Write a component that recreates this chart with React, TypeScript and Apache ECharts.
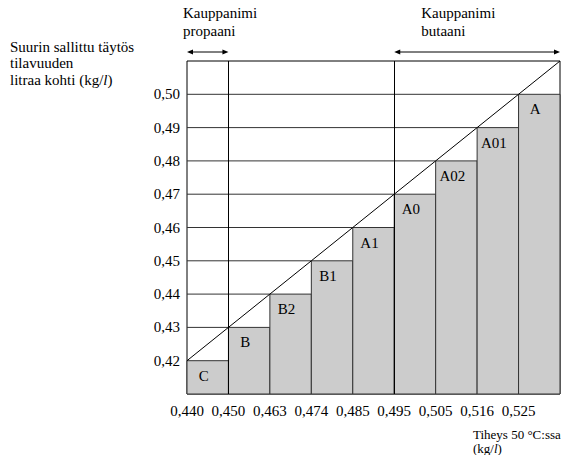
import React, { useEffect, useRef } from "react";
import * as echarts from "echarts";

// ---- data ----
const classes = ["C", "B", "B2", "B1", "A1", "A0", "A02", "A01", "A"];
const maxFill = [0.42, 0.43, 0.44, 0.45, 0.46, 0.47, 0.48, 0.49, 0.5];
const densityTicks = ["0,440", "0,450", "0,463", "0,474", "0,485", "0,495", "0,505", "0,516", "0,525"];
const yMin = 0.41;
const yMax = 0.51;
const propaneRange = [0, 1];
const butaneRange = [5, 9];

const FAM = "Liberation Serif";
const f = (size: number, italic = false) => (italic ? "italic " : "") + size + "px " + FAM;

export default function App() {
  const ref = useRef<HTMLDivElement>(null);

  useEffect(() => {
    if (!ref.current) return;
    const chart = echarts.init(ref.current, null, { renderer: "svg" });

    const diagonal = maxFill.map((v, i) => [i, v]).concat([[classes.length, yMax]]);

    const option: any = {
      animation: false,
      backgroundColor: "#fff",
      grid: {
        left: 187,
        right: 5,
        top: 61,
        bottom: 61,
        show: true,
        borderColor: "#000",
        borderWidth: 1,
        backgroundColor: "transparent",
      },
      xAxis: {
        type: "value",
        min: 0,
        max: classes.length,
        interval: 1,
        axisLine: { show: false },
        axisTick: { show: false },
        splitLine: { show: false },
        axisLabel: {
          margin: 9,
          color: "#000",
          fontSize: 15,
          fontFamily: FAM,
          formatter: (v: number) => densityTicks[Math.round(v)] ?? "",
        },
      },
      yAxis: {
        type: "value",
        min: yMin,
        max: yMax,
        interval: 0.01,
        axisLine: { show: false },
        axisTick: { show: false },
        splitLine: { show: false },
        axisLabel: {
          margin: 7,
          color: "#000",
          fontSize: 15,
          fontFamily: FAM,
          formatter: (v: number) =>
            v < yMin + 0.005 || v > yMax - 0.005 ? "" : v.toFixed(2).replace(".", ","),
        },
      },
      series: [
        {
          type: "custom",
          z: 2,
          data: maxFill.map((v, i) => [i, v]),
          renderItem: (params: any, api: any) => {
            const i = api.value(0);
            const v = api.value(1);
            const tl = api.coord([i, v]);
            const br = api.coord([i + 1, yMin]);
            const axisLeft = api.coord([0, v]);
            return {
              type: "group",
              children: [
                {
                  type: "line",
                  shape: { x1: axisLeft[0], y1: tl[1], x2: tl[0], y2: tl[1] },
                  style: { stroke: "#333", lineWidth: 1 },
                },
                {
                  type: "rect",
                  shape: { x: tl[0], y: tl[1], width: br[0] - tl[0], height: br[1] - tl[1] },
                  style: { fill: "#cccccc", stroke: "#333", lineWidth: 1 },
                },
                {
                  type: "text",
                  style: {
                    text: classes[params.dataIndex],
                    x: (tl[0] + br[0]) / 2 - 4,
                    y: tl[1] + 15,
                    align: "center",
                    verticalAlign: "middle",
                    font: f(15),
                    fill: "#000",
                  },
                },
              ],
            };
          },
        },
        {
          type: "line",
          z: 3,
          data: diagonal,
          symbol: "none",
          lineStyle: { color: "#000", width: 1 },
          markLine: {
            symbol: "none",
            silent: true,
            label: { show: false },
            lineStyle: { color: "#000", width: 1, type: "solid" },
            data: [{ xAxis: propaneRange[1] }, { xAxis: butaneRange[0] }],
          },
        },
      ],
    };
    chart.setOption(option);

    const px = (x: number, y: number) => chart.convertToPixel({ gridIndex: 0 }, [x, y]) as number[];
    const topY = px(0, yMax)[1];
    const arrowY = topY - 9;
    const arrow = (x1: number, x2: number) => {
      const h = 6;
      const w = 2.5;
      return [
        {
          type: "line",
          shape: { x1: x1 + h - 1, y1: arrowY, x2: x2 - h + 1, y2: arrowY },
          style: { stroke: "#000", lineWidth: 1 },
        },
        {
          type: "polygon",
          shape: { points: [[x1, arrowY], [x1 + h, arrowY - w], [x1 + h, arrowY + w]] },
          style: { fill: "#000" },
        },
        {
          type: "polygon",
          shape: { points: [[x2, arrowY], [x2 - h, arrowY - w], [x2 - h, arrowY + w]] },
          style: { fill: "#000" },
        },
      ];
    };
    const pL = px(propaneRange[0], yMax)[0];
    const pR = px(propaneRange[1], yMax)[0];
    const bL = px(butaneRange[0], yMax)[0];
    const bR = px(butaneRange[1], yMax)[0];

    const txt = (text: string, x: number, y: number, size: number) => ({
      type: "text",
      x,
      y,
      style: { text, font: f(size), fill: "#000" },
    });

    chart.setOption({
      graphic: [
        txt("Suurin sallittu täytös", 10, 39, 15),
        txt("tilavuuden", 10, 55.5, 15),
        {
          type: "text",
          x: 10,
          y: 72,
          style: {
            text: "litraa kohti (kg/{i|l})",
            font: f(15),
            fill: "#000",
            rich: { i: { font: f(15, true) } },
          },
        },
        txt("Kauppanimi", pL - 4, 5, 15),
        txt("propaani", pL - 4, 23, 15),
        txt("Kauppanimi", bL + 27, 5, 15),
        txt("butaani", bL + 27, 23, 15),
        ...arrow(pL, pR),
        ...arrow(bL, bR),
        txt("Tiheys 50 °C:ssa", 473, 428, 13),
        {
          type: "text",
          x: 473,
          y: 442,
          style: {
            text: "(kg/{i|l})",
            font: f(13),
            fill: "#000",
            rich: { i: { font: f(13, true) } },
          },
        },
      ],
    });

    return () => chart.dispose();
  }, []);

  return (
    <div
      ref={ref}
      style={{ position: "fixed", left: 0, top: 0, width: 565, height: 455 }}
    />
  );
}
